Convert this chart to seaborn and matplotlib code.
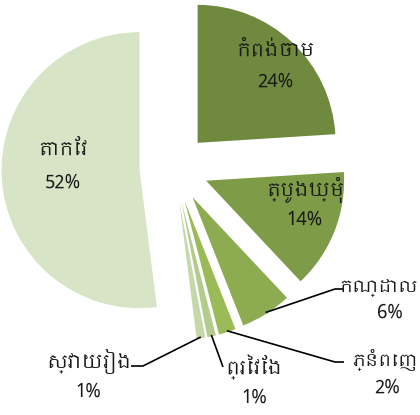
import numpy as np
import matplotlib
matplotlib.use("Agg")
import matplotlib.pyplot as plt
from matplotlib import font_manager
import seaborn as sns

# ---- data ----
provinces = ["កំពង់ចាម", "ត្បូងឃ្មុំ", "កណ្ដាល", "ភ្នំពេញ", "ព្រៃវែង", "ស្វាយរៀង", "តាកែវ"]
shares = [24, 14, 6, 2, 1, 1, 52]
colors = ["#6F8A3E", "#7E9B47", "#8DAC52", "#9BBB59", "#B3CB8D", "#C6D7AA", "#D8E4C6"]

sns.set_theme(style="white")

# find a Khmer-capable font if any is present
khmer_fams = []
for f in font_manager.fontManager.ttflist:
    if "khmer" in f.name.lower() and f.name not in khmer_fams:
        khmer_fams.append(f.name)
plt.rcParams["font.family"] = khmer_fams + ["DejaVu Sans"]

fig = plt.figure(figsize=(4.2, 4.15), dpi=100)
ax = fig.add_axes([0, 0, 1, 1])

wedges, _ = ax.pie(shares, startangle=90, counterclock=False,
                   explode=[0.25] * len(shares), colors=colors,
                   radius=1, wedgeprops=dict(linewidth=0))

ax.set_xlim(-174 / 138, (420 - 174) / 138)
ax.set_ylim(-(415 - 168) / 138, 168 / 138)
ax.set_aspect("auto")
ax.axis("off")

tcolor = "#1A1A1A"
fs = 13.5

def px(x, y):
    return ((x - 174) / 138, (168 - y) / 138)

def put_label(i, name_xy, pct_xy, name_ha="center", name_fs=fs):
    ax.text(*px(*name_xy), provinces[i], ha=name_ha, va="center",
            fontsize=name_fs, color=tcolor)
    ax.text(*px(*pct_xy), f"{shares[i]}%", ha="center", va="center",
            fontsize=fs, color=tcolor)

# inner labels (layout positions in pixels)
put_label(0, (275, 50), (275, 82))
put_label(1, (305, 190), (305, 220))
put_label(6, (63, 150), (63, 183))

# outer labels with leader lines (layout positions in pixels)
outer = {
    2: ((418, 288), (390, 313), [(335, 289), (344, 289)], "right", 12.5),
    3: ((418, 360), (387, 388), [(335, 362), (344, 362)], "right", 12.5),
    4: ((254, 367), (254, 398), [(223, 367)], "center", fs),
    5: ((89, 362), (88, 392), [(143, 366), (131, 366)], "center", fs),
}
for i, (nxy, pxy, pts, ha, nfs) in outer.items():
    w = wedges[i]
    cx, cy = w.center
    mid = np.deg2rad((w.theta1 + w.theta2) / 2)
    ax0 = cx + w.r * 0.99 * np.cos(mid)
    ay0 = cy + w.r * 0.99 * np.sin(mid)
    xs = [ax0] + [px(*p)[0] for p in pts]
    ys = [ay0] + [px(*p)[1] for p in pts]
    ax.plot(xs, ys, color="black", lw=1.2, solid_capstyle="butt")
    put_label(i, nxy, pxy, name_ha=ha, name_fs=nfs)

fig.savefig("out.png", dpi=100)
